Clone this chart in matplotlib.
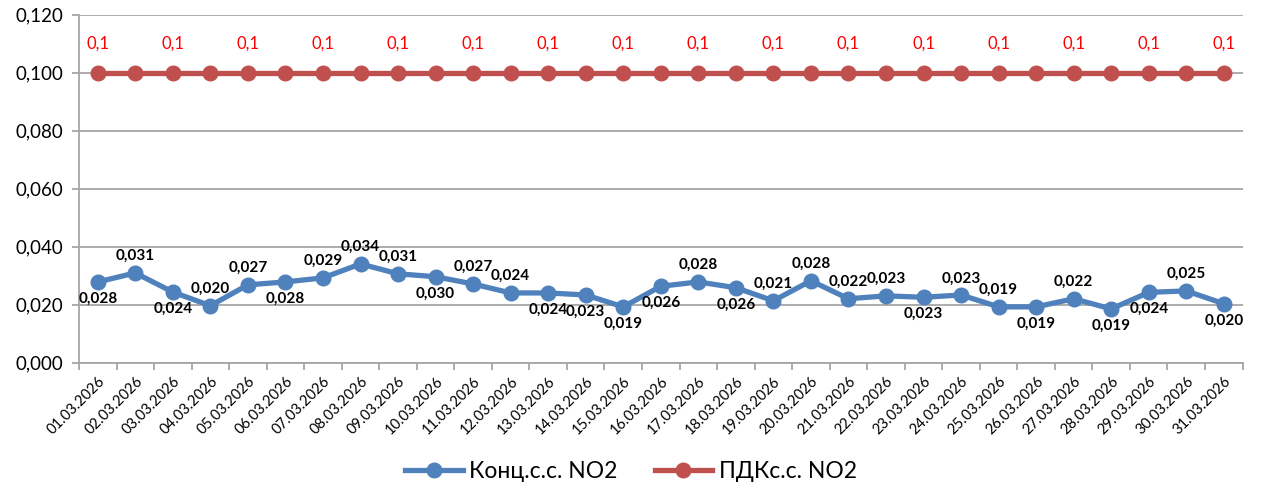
import numpy as np
import matplotlib
matplotlib.use("Agg")
from matplotlib import pyplot as plt
from matplotlib.ticker import FuncFormatter, MultipleLocator

plt.rcParams['font.family'] = ['Lato', 'DejaVu Sans']

# data
dates = ['%02d.03.2026' % d for d in range(1, 32)]
conc = [0.0279, 0.0310, 0.0244, 0.0197, 0.0269, 0.0279, 0.0293, 0.0341,
        0.0307, 0.0297, 0.0272, 0.0241, 0.0241, 0.0234, 0.0193, 0.0264,
        0.0279, 0.0259, 0.0214, 0.0283, 0.0221, 0.0231, 0.0226, 0.0234,
        0.0193, 0.0193, 0.0221, 0.0186, 0.0243, 0.0248, 0.0204]
pdk = [0.1] * 31
series_names = ['Конц.с.с. NO2', 'ПДКс.с. NO2']

# label side for blue series: 1 = above, -1 = below
label_side = [-1, 1, -1, 1, 1, -1, 1, 1, 1, -1, 1, 1, -1, -1, -1, -1,
              1, -1, 1, 1, 1, 1, -1, 1, 1, -1, 1, -1, -1, 1, -1]

blue = '#4f81bd'
red = '#c0504d'
grey = '#a6a6a6'

fig = plt.figure(figsize=(12.62, 4.95), dpi=100)
ax = fig.add_axes([0.0626, 0.267, 0.922, 0.703])

x = np.arange(len(dates))
ax.plot(x, conc, color=blue, lw=3.8, marker='o', ms=10.5, label=series_names[0], zorder=3)
ax.plot(x, pdk, color=red, lw=3.8, marker='o', ms=10.5, label=series_names[1], zorder=3)

fmt = lambda v: ('%.3f' % v).replace('.', ',')
for xi, v, s in zip(x, conc, label_side):
    ax.annotate(fmt(v), (xi, v), xytext=(0, 12 * s), textcoords='offset points',
                ha='center', va='center', fontsize=11, fontweight='bold', color='black')
for xi, v in zip(x[::2], pdk[::2]):
    ax.annotate(('%g' % v).replace('.', ','), (xi, v), xytext=(0, 21), textcoords='offset points',
                ha='center', va='center', fontsize=12, color='#ff0000')

ax.set_xlim(-0.5, len(dates) - 0.5)
ax.set_ylim(0, 0.12)
ax.yaxis.set_major_locator(MultipleLocator(0.02))
ax.yaxis.set_major_formatter(FuncFormatter(lambda v, p: fmt(v)))
ax.grid(axis='y', color=grey, lw=1.3)
ax.set_axisbelow(True)

ax.set_xticks(x)
ax.set_xticklabels(dates, rotation=45, ha='right', rotation_mode='anchor', fontsize=10.5)
ax.set_xticks(np.arange(-0.5, len(dates)), minor=True)
ax.tick_params(axis='x', which='major', length=0, pad=8)
ax.tick_params(axis='x', which='minor', length=5, color=grey, width=1.3)
ax.tick_params(axis='y', length=5, color=grey, width=1.3, labelsize=13.5, pad=6)

for side in ['top', 'right']:
    ax.spines[side].set_visible(False)
for side in ['left', 'bottom']:
    ax.spines[side].set_color(grey)
    ax.spines[side].set_linewidth(1.3)

fig.legend(loc='lower center', bbox_to_anchor=(0.5, -0.015), ncol=2, frameon=False,
           fontsize=16.5, handlelength=2.5, columnspacing=1.6, handletextpad=0.3)

fig.savefig('out.png', dpi=100)
